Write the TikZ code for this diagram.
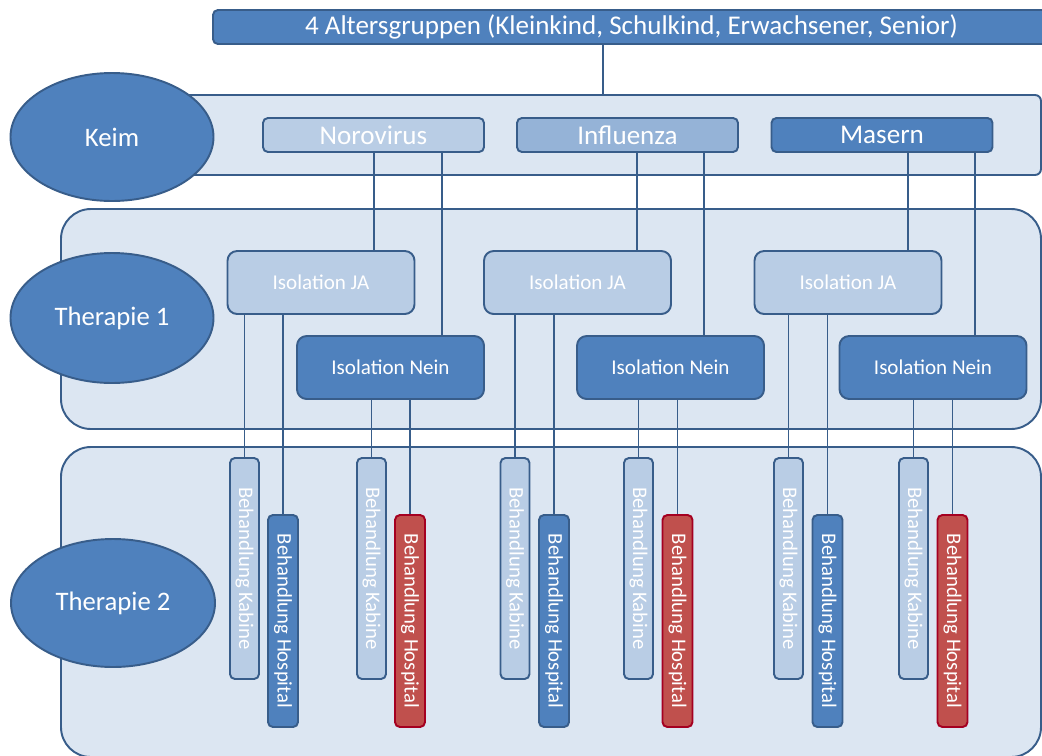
\documentclass[tikz,border=0pt]{standalone}
\usepackage{fontspec}
\setmainfont{Carlito}
\usetikzlibrary{shapes.geometric}
\newcommand\pxu{0.02cm}
\definecolor{darkc}{HTML}{4F81BD}
\definecolor{bordc}{HTML}{385D8A}
\definecolor{lightc}{HTML}{B9CDE5}
\definecolor{midc}{HTML}{95B3D7}
\definecolor{bandc}{HTML}{DCE6F2}
\definecolor{redc}{HTML}{C0504D}
\definecolor{redb}{HTML}{A50021}
\tikzset{
  band/.style={draw=bordc, fill=bandc, line width=1.1pt, inner sep=0pt},
  lvl/.style={ellipse, draw=bordc, fill=darkc, line width=1.1pt, text=white,
    inner sep=0pt, font=\fontsize{15.2}{18}\selectfont},
  box/.style={draw=bordc, line width=1.1pt, text=white, inner sep=0pt},
  germ/.style={box, rounded corners=2.8pt, minimum width=221*\pxu,
    minimum height=34*\pxu, font=\fontsize{15.4}{18}\selectfont},
  iso/.style={box, rounded corners=5.5pt, minimum width=187*\pxu,
    minimum height=63*\pxu, font=\fontsize{12}{14}\selectfont},
  kab/.style={box, fill=lightc, rotate=-90, rounded corners=2.8pt,
    minimum width=221*\pxu, minimum height=29*\pxu,
    font=\fontsize{11.8}{14}\selectfont},
  hosp/.style={box, fill=darkc, rotate=-90, rounded corners=2.8pt,
    minimum width=212*\pxu, minimum height=30*\pxu,
    font=\fontsize{11.8}{14}\selectfont},
  hospred/.style={hosp, fill=redc, draw=redb},
  conn/.style={draw=bordc, line width=1.1pt}
}
\begin{document}
\begin{tikzpicture}[x=0.02cm, y=-0.02cm]
\useasboundingbox (0,0) rectangle (1042,755);
\clip (0,0) rectangle (1042,755);
\fill[white] (0,0) rectangle (1042,755);

% level bands
\node[band, rounded corners=3.4pt, minimum width=891*\pxu, minimum height=80*\pxu] (keimband) at (595.5,135) {};
\node[band, rounded corners=17pt, minimum width=980*\pxu, minimum height=220*\pxu] (t1band) at (551,319) {};
\node[band, rounded corners=17pt, minimum width=980*\pxu, minimum height=310*\pxu] (t2band) at (551,602) {};

% level labels
\node[lvl, minimum width=203*\pxu, minimum height=128*\pxu] (keim) at (112,137) {Keim};
\node[lvl, minimum width=203*\pxu, minimum height=130*\pxu] (ther1) at (112,318) {Therapie 1};
\node[lvl, minimum width=204*\pxu, minimum height=128*\pxu] (ther2) at (113,603) {Therapie 2};

% top header
\node[box, fill=darkc, rounded corners=2.8pt, minimum width=837*\pxu, minimum height=34*\pxu,
  font=\fontsize{15.4}{18}\selectfont] (top) at (631.5,27)
  {4 Altersgruppen (Kleinkind, Schulkind, Erwachsener, Senior)};

% germs
\node[germ, fill=lightc] (noro) at (373.5,135) {Norovirus};
\node[germ, fill=midc] (infl) at (627.5,135) {Influenza};
\node[germ, fill=darkc] (mas) at (882,135) {Masern};

% isolation decisions
\node[iso, fill=lightc] (ja1) at (321,282.5) {Isolation JA};
\node[iso, fill=lightc] (ja2) at (577.5,282.5) {Isolation JA};
\node[iso, fill=lightc] (ja3) at (848,282.5) {Isolation JA};
\node[iso, fill=darkc] (nein1) at (390.5,367.5) {Isolation Nein};
\node[iso, fill=darkc] (nein2) at (670.5,367.5) {Isolation Nein};
\node[iso, fill=darkc] (nein3) at (933,367.5) {Isolation Nein};

% treatments
\node[kab] (k1) at (244.5,568.5) {Behandlung Kabine};
\node[hosp] (h1) at (283,621) {Behandlung Hospital};
\node[kab] (k2) at (371.5,568.5) {Behandlung Kabine};
\node[hospred] (h2) at (410,621) {Behandlung Hospital};
\node[kab] (k3) at (515,568.5) {Behandlung Kabine};
\node[hosp] (h3) at (554,621) {Behandlung Hospital};
\node[kab] (k4) at (638.5,568.5) {Behandlung Kabine};
\node[hospred] (h4) at (677.5,621) {Behandlung Hospital};
\node[kab] (k5) at (788.5,568.5) {Behandlung Kabine};
\node[hosp] (h5) at (827.5,621) {Behandlung Hospital};
\node[kab] (k6) at (913.5,568.5) {Behandlung Kabine};
\node[hospred] (h6) at (952.5,621) {Behandlung Hospital};

% connector columns
\coordinate (c0) at (603,0);
\coordinate (c1) at (374,0);
\coordinate (c2) at (442,0);
\coordinate (c3) at (637,0);
\coordinate (c4) at (704,0);
\coordinate (c5) at (908,0);
\coordinate (c6) at (975,0);

% header and germ connectors
\draw[conn] (top.south -| c0) -- (keimband.north -| c0);
\draw[conn] (noro.south -| c1) -- (ja1.north -| c1);
\draw[conn] (noro.south -| c2) -- (nein1.north -| c2);
\draw[conn] (infl.south -| c3) -- (ja2.north -| c3);
\draw[conn] (infl.south -| c4) -- (nein2.north -| c4);
\draw[conn] (mas.south -| c5) -- (ja3.north -| c5);
\draw[conn] (mas.south -| c6) -- (nein3.north -| c6);

% isolation to treatment connectors
\draw[conn] (ja1.south -| k1.west) -- (k1.west);
\draw[conn] (ja1.south -| h1.west) -- (h1.west);
\draw[conn] (nein1.south -| k2.west) -- (k2.west);
\draw[conn] (nein1.south -| h2.west) -- (h2.west);
\draw[conn] (ja2.south -| k3.west) -- (k3.west);
\draw[conn] (ja2.south -| h3.west) -- (h3.west);
\draw[conn] (nein2.south -| k4.west) -- (k4.west);
\draw[conn] (nein2.south -| h4.west) -- (h4.west);
\draw[conn] (ja3.south -| k5.west) -- (k5.west);
\draw[conn] (ja3.south -| h5.west) -- (h5.west);
\draw[conn] (nein3.south -| k6.west) -- (k6.west);
\draw[conn] (nein3.south -| h6.west) -- (h6.west);
\end{tikzpicture}
\end{document}
